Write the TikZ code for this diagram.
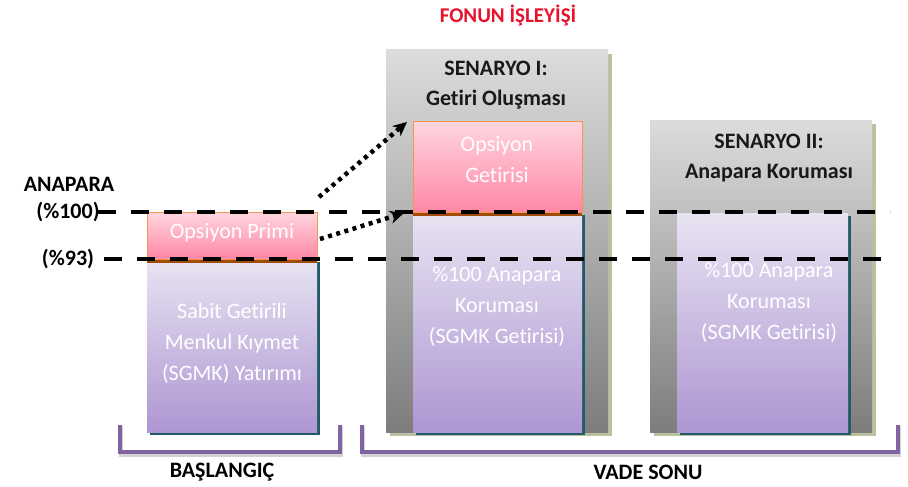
\documentclass[tikz,border=0pt]{standalone}
\usepackage{fontspec}
\setmainfont{Carlito}[Ligatures={NoCommon}]
\usetikzlibrary{shadows,arrows.meta}
\definecolor{grayTop}{RGB}{220,220,220}
\definecolor{grayBot}{RGB}{125,125,125}
\definecolor{grayShadow}{RGB}{184,194,160}
\definecolor{purTop}{RGB}{232,227,242}
\definecolor{purBot}{RGB}{174,150,210}
\definecolor{purShadow}{RGB}{35,90,104}
\definecolor{pinkTop}{RGB}{255,214,224}
\definecolor{pinkBot}{RGB}{255,135,165}
\definecolor{pinkBorder}{RGB}{247,150,70}
\definecolor{brownSh}{RGB}{160,75,10}
\definecolor{brkColor}{RGB}{128,100,162}
\definecolor{titleRed}{RGB}{232,18,45}
\definecolor{hdrColor}{RGB}{25,25,25}
\begin{document}
\begin{tikzpicture}[x=1pt,y=-1pt,
  graybox/.style={rectangle, inner sep=0pt, minimum width=222pt, top color=grayTop, bottom color=grayBot, draw=none,
    general shadow={fill=grayShadow, shadow xshift=4pt, shadow yshift=-4pt}},
  purplebox/.style={rectangle, inner sep=0pt, top color=purTop, bottom color=purBot, draw=none,
    general shadow={fill=purShadow, shadow xshift=3pt, shadow yshift=-3pt}},
  pinkbox/.style={rectangle, inner sep=0pt, top color=pinkTop, bottom color=pinkBot, draw=pinkBorder, line width=1pt,
    general shadow={fill=brownSh, shadow xshift=0pt, shadow yshift=-4pt}},
  intext/.style={text=white, font=\fontsize{22}{31}\selectfont, align=center, inner sep=0pt},
  hdr/.style={text=hdrColor, font=\bfseries\fontsize{22}{30}\selectfont, align=center, inner sep=0pt},
  lbl/.style={text=black, font=\bfseries\fontsize{22}{26}\selectfont, inner sep=0pt},
  refline/.style={line width=4pt, dash pattern=on 18pt off 15pt},
  dotarrow/.style={line width=4.5pt, dash pattern=on 4pt off 4.5pt, -{Stealth[length=14pt,width=13pt]}},
  bracket/.style={line width=4pt, draw=brkColor},
  bracketsh/.style={line width=4pt, draw=black!35, opacity=0.5}
]
\useasboundingbox (0,0) rectangle (908,487);

% title
\node[font=\bfseries\fontsize{21}{24}\selectfont, text=titleRed, inner sep=0pt] (title) at (508,15) {FONUN İŞLEYİŞİ};

% gray scenario boxes
\node[graybox, minimum height=382pt] (s1) at (497,241) {};
\node[graybox, minimum height=312pt] (s2) at (761,276) {};

% purple boxes
\node[purplebox, minimum width=170pt, minimum height=173pt] (sgmk) at (232,345.5) {};
\node[purplebox, minimum width=169pt, minimum height=220pt] (s1p) at (497.5,322) {};
\node[purplebox, minimum width=171pt, minimum height=219pt] (s2p) at (762.5,322.5) {};

% pink boxes
\node[pinkbox, minimum width=170pt, minimum height=47pt] (prim) at (232,235.5) {};
\node[pinkbox, minimum width=169pt, minimum height=91pt] (s1k) at (497.5,166.5) {};

% texts
\node[hdr] (s1h) at (496,85) {SENARYO I:\\Getiri Oluşması};
\node[hdr] (s2h) at (769,158) {SENARYO II:\\Anapara Koruması};
\node[intext] (primt) at (232,233) {Opsiyon Primi};
\node[intext] (sgmkt) at (232,343) {Sabit Getirili\\Menkul Kıymet\\(SGMK) Yatırımı};
\node[intext] (s1kt) at (497,160) {Opsiyon\\Getirisi};
\node[intext] (s1pt) at (497,307) {\%100 Anapara\\Koruması\\(SGMK Getirisi)};
\node[intext] (s2pt) at (769,303) {\%100 Anapara\\Koruması\\(SGMK Getirisi)};

% left labels
\node[lbl] (anapara) at (69,184) {ANAPARA};
\node[lbl] (p100) at (68,212) {(\%100)};
\node[lbl] (p93) at (68,259) {(\%93)};

% reference dashed lines
\coordinate (r1a) at (98,212);
\coordinate (r1b) at (890,212);
\coordinate (r2a) at (104,259);
\coordinate (r2b) at (890,259);
\draw[refline] (r1a) -- (r1b);
\draw[refline] (r2a) -- (r2b);

% dotted arrows
\coordinate (a1s) at (319,197);
\coordinate (a1e) at (407,122);
\coordinate (a2s) at (320,239);
\coordinate (a2e) at (404,213);
\draw[dotarrow] (a1s) -- (a1e);
\draw[dotarrow] (a2s) -- (a2e);

% brackets
\draw[bracketsh] (121,426) -- (121,455) -- (341,455) -- (341,426);
\draw[bracketsh] (363,426) -- (363,455) -- (899,455) -- (899,426);
\draw[bracket] (120,425) -- (120,452) -- (340,452) -- (340,425);
\draw[bracket] (362,425) -- (362,452) -- (898,452) -- (898,425);

\node[lbl] (basl) at (222,472) {BAŞLANGIÇ};
\node[lbl] (vade) at (648,472) {VADE SONU};
\end{tikzpicture}
\end{document}
